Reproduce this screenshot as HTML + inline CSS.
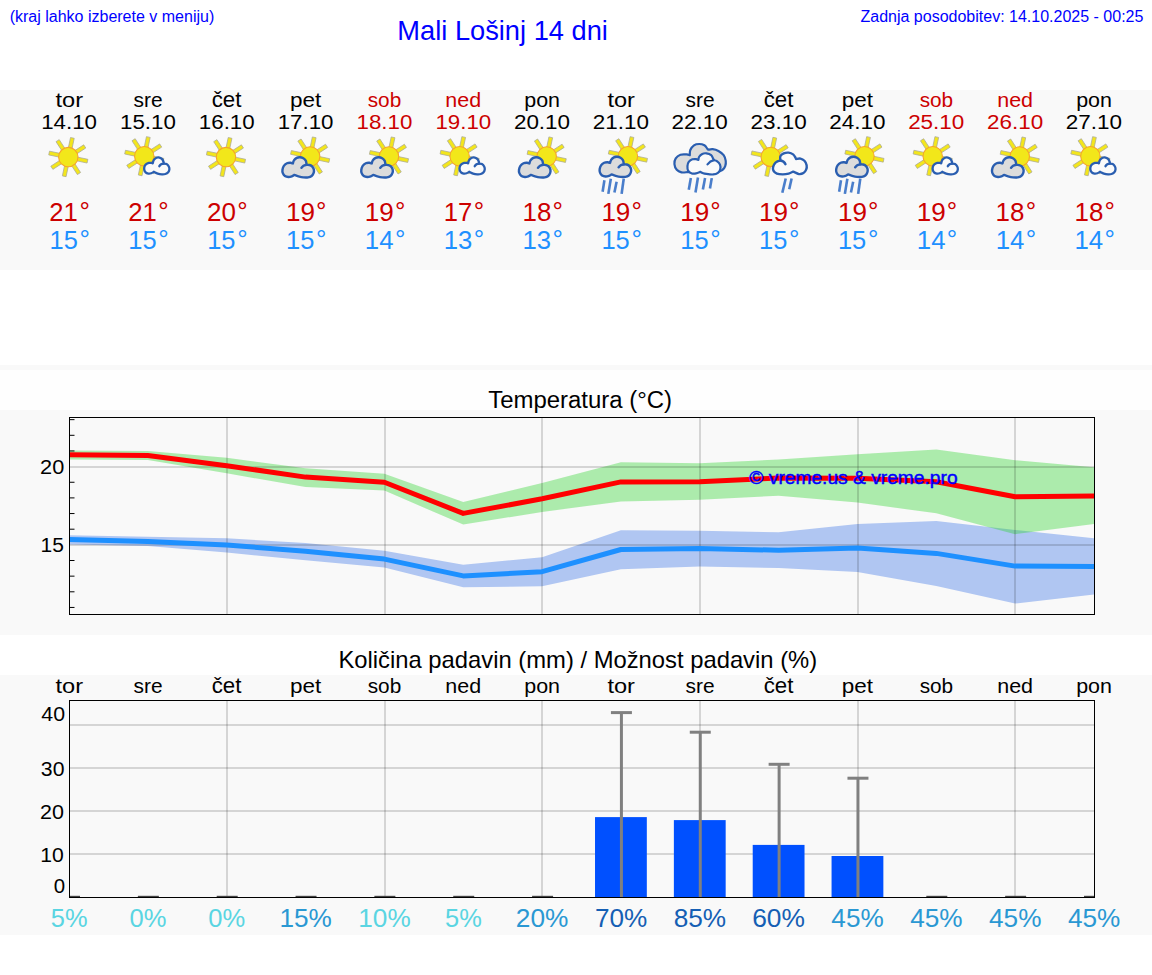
<!DOCTYPE html>
<html><head><meta charset="utf-8"><title>Mali Lošinj 14 dni</title>
<style>html,body{margin:0;padding:0;background:#fff;overflow:hidden}svg{display:block}
text{font-family:"Liberation Sans",sans-serif}</style></head>
<body><svg width="1152" height="975" viewBox="0 0 1152 975">
<rect width="1152" height="975" fill="#ffffff"/>
<rect x="0" y="90" width="1152" height="180" fill="#f9f9f9"/>
<rect x="0" y="365" width="1152" height="5" fill="#f9f9f9"/>
<rect x="0" y="370" width="1152" height="40" fill="#fefefe"/>
<rect x="0" y="410" width="1152" height="225" fill="#f9f9f9"/>
<rect x="0" y="675" width="1152" height="260" fill="#f9f9f9"/>
<text x="9.70" y="22.20" font-size="16" fill="#0000ff">(kraj lahko izberete v meniju)</text>
<text x="397.35" y="40.40" font-size="27.25" fill="#0000ff">Mali Lošinj 14 dni</text>
<text x="860.50" y="22.30" font-size="16" fill="#0000ff">Zadnja posodobitev: 14.10.2025 - 00:25</text>
<text transform="translate(55.48 106.90) scale(1.2440 1.1067)" font-size="19" fill="#000000">tor</text>
<text transform="translate(41.17 128.95) scale(1.1745 1.0455)" font-size="19" fill="#000000">14.10</text>
<g transform="translate(68.30 157.10) scale(1.000)"><rect x="-1.9" y="-19.6" width="3.8" height="10.5" fill="#f3e61c" stroke="#a9a998" stroke-width="0.7" transform="rotate(12.0)"/><rect x="-1.9" y="-19.6" width="3.8" height="10.5" fill="#f3e61c" stroke="#a9a998" stroke-width="0.7" transform="rotate(57.0)"/><rect x="-1.9" y="-19.6" width="3.8" height="10.5" fill="#f3e61c" stroke="#a9a998" stroke-width="0.7" transform="rotate(102.0)"/><rect x="-1.9" y="-19.6" width="3.8" height="10.5" fill="#f3e61c" stroke="#a9a998" stroke-width="0.7" transform="rotate(147.0)"/><rect x="-1.9" y="-19.6" width="3.8" height="10.5" fill="#f3e61c" stroke="#a9a998" stroke-width="0.7" transform="rotate(192.0)"/><rect x="-1.9" y="-19.6" width="3.8" height="10.5" fill="#f3e61c" stroke="#a9a998" stroke-width="0.7" transform="rotate(237.0)"/><rect x="-1.9" y="-19.6" width="3.8" height="10.5" fill="#f3e61c" stroke="#a9a998" stroke-width="0.7" transform="rotate(282.0)"/><rect x="-1.9" y="-19.6" width="3.8" height="10.5" fill="#f3e61c" stroke="#a9a998" stroke-width="0.7" transform="rotate(327.0)"/><circle r="9.7" fill="#f2e71a" stroke="#f6a52a" stroke-width="1.1"/></g>
<text transform="translate(49.28 221.00) scale(1.0266 1.0345)" font-size="25" fill="#cc0000">21</text>
<text transform="translate(79.47 221.25) scale(1.0440 1.0761)" font-size="25" fill="#cc0000">°</text>
<text transform="translate(49.50 248.91) scale(1.0188 1.0345)" font-size="25" fill="#1e90ff">15</text>
<text transform="translate(79.49 249.05) scale(1.0440 1.0761)" font-size="25" fill="#1e90ff">°</text>
<text transform="translate(133.53 106.90) scale(1.1016 1.0487)" font-size="19" fill="#000000">sre</text>
<text transform="translate(120.01 128.95) scale(1.1745 1.0455)" font-size="19" fill="#000000">15.10</text>
<g transform="translate(144.25 156.20) scale(1.000)"><rect x="-1.9" y="-19.6" width="3.8" height="10.5" fill="#f3e61c" stroke="#a9a998" stroke-width="0.7" transform="rotate(12.0)"/><rect x="-1.9" y="-19.6" width="3.8" height="10.5" fill="#f3e61c" stroke="#a9a998" stroke-width="0.7" transform="rotate(57.0)"/><rect x="-1.9" y="-19.6" width="3.8" height="10.5" fill="#f3e61c" stroke="#a9a998" stroke-width="0.7" transform="rotate(102.0)"/><rect x="-1.9" y="-19.6" width="3.8" height="10.5" fill="#f3e61c" stroke="#a9a998" stroke-width="0.7" transform="rotate(147.0)"/><rect x="-1.9" y="-19.6" width="3.8" height="10.5" fill="#f3e61c" stroke="#a9a998" stroke-width="0.7" transform="rotate(192.0)"/><rect x="-1.9" y="-19.6" width="3.8" height="10.5" fill="#f3e61c" stroke="#a9a998" stroke-width="0.7" transform="rotate(237.0)"/><rect x="-1.9" y="-19.6" width="3.8" height="10.5" fill="#f3e61c" stroke="#a9a998" stroke-width="0.7" transform="rotate(282.0)"/><rect x="-1.9" y="-19.6" width="3.8" height="10.5" fill="#f3e61c" stroke="#a9a998" stroke-width="0.7" transform="rotate(327.0)"/><circle r="9.7" fill="#f2e71a" stroke="#f6a52a" stroke-width="1.1"/></g><path d="M152.69 163.36 C152.89 162.80 153.23 160.90 153.87 159.97 C154.51 159.03 155.59 158.15 156.53 157.76 C157.46 157.36 158.55 157.39 159.48 157.61 C160.42 157.83 161.47 158.40 162.14 159.08 C162.80 159.77 163.19 160.98 163.47 161.74 C163.74 162.50 163.71 163.34 163.76 163.66 C164.23 163.73 165.73 163.63 166.56 164.10 C167.40 164.57 168.31 165.58 168.78 166.46 C169.25 167.35 169.47 168.43 169.37 169.41 C169.27 170.40 168.85 171.60 168.19 172.37 C167.52 173.13 166.44 173.67 165.38 173.99 C164.33 174.31 163.12 174.36 161.84 174.28 C160.56 174.21 159.04 173.96 157.71 173.55 C156.38 173.13 154.51 172.07 153.87 171.78 C153.43 172.02 152.15 172.96 151.22 173.25 C150.28 173.55 149.20 173.69 148.26 173.55 C147.33 173.40 146.27 173.01 145.61 172.37 C144.94 171.73 144.48 170.64 144.28 169.71 C144.08 168.77 144.16 167.64 144.43 166.76 C144.70 165.87 145.17 165.04 145.90 164.40 C146.64 163.76 147.92 163.17 148.85 162.92 C149.79 162.67 150.87 162.85 151.51 162.92 C152.15 162.99 152.50 163.29 152.69 163.36 Z" fill="#fafafa" stroke="#2a5eb0" stroke-width="2.30" stroke-linejoin="round"/><path d="M159.33 166.17 Q160.66 163.81 163.76 163.66" fill="none" stroke="#2a5eb0" stroke-width="2.30" stroke-linecap="round"/>
<text transform="translate(128.13 221.00) scale(1.0266 1.0345)" font-size="25" fill="#cc0000">21</text>
<text transform="translate(158.31 221.25) scale(1.0440 1.0761)" font-size="25" fill="#cc0000">°</text>
<text transform="translate(128.35 248.91) scale(1.0188 1.0345)" font-size="25" fill="#1e90ff">15</text>
<text transform="translate(158.34 249.05) scale(1.0440 1.0761)" font-size="25" fill="#1e90ff">°</text>
<text transform="translate(211.74 106.90) scale(1.1709 1.1154)" font-size="19" fill="#000000">čet</text>
<text transform="translate(198.86 128.95) scale(1.1745 1.0455)" font-size="19" fill="#000000">16.10</text>
<g transform="translate(225.99 157.10) scale(1.000)"><rect x="-1.9" y="-19.6" width="3.8" height="10.5" fill="#f3e61c" stroke="#a9a998" stroke-width="0.7" transform="rotate(12.0)"/><rect x="-1.9" y="-19.6" width="3.8" height="10.5" fill="#f3e61c" stroke="#a9a998" stroke-width="0.7" transform="rotate(57.0)"/><rect x="-1.9" y="-19.6" width="3.8" height="10.5" fill="#f3e61c" stroke="#a9a998" stroke-width="0.7" transform="rotate(102.0)"/><rect x="-1.9" y="-19.6" width="3.8" height="10.5" fill="#f3e61c" stroke="#a9a998" stroke-width="0.7" transform="rotate(147.0)"/><rect x="-1.9" y="-19.6" width="3.8" height="10.5" fill="#f3e61c" stroke="#a9a998" stroke-width="0.7" transform="rotate(192.0)"/><rect x="-1.9" y="-19.6" width="3.8" height="10.5" fill="#f3e61c" stroke="#a9a998" stroke-width="0.7" transform="rotate(237.0)"/><rect x="-1.9" y="-19.6" width="3.8" height="10.5" fill="#f3e61c" stroke="#a9a998" stroke-width="0.7" transform="rotate(282.0)"/><rect x="-1.9" y="-19.6" width="3.8" height="10.5" fill="#f3e61c" stroke="#a9a998" stroke-width="0.7" transform="rotate(327.0)"/><circle r="9.7" fill="#f2e71a" stroke="#f6a52a" stroke-width="1.1"/></g>
<text transform="translate(206.96 221.10) scale(1.0396 1.0405)" font-size="25" fill="#cc0000">20</text>
<text transform="translate(237.16 221.25) scale(1.0440 1.0761)" font-size="25" fill="#cc0000">°</text>
<text transform="translate(207.19 248.91) scale(1.0188 1.0345)" font-size="25" fill="#1e90ff">15</text>
<text transform="translate(237.18 249.05) scale(1.0440 1.0761)" font-size="25" fill="#1e90ff">°</text>
<text transform="translate(289.92 106.90) scale(1.1832 1.1067)" font-size="19" fill="#000000">pet</text>
<text transform="translate(277.70 128.95) scale(1.1745 1.0455)" font-size="19" fill="#000000">17.10</text>
<g transform="translate(310.14 156.50) scale(1.000)"><rect x="-1.9" y="-19.6" width="3.8" height="10.5" fill="#f3e61c" stroke="#a9a998" stroke-width="0.7" transform="rotate(12.0)"/><rect x="-1.9" y="-19.6" width="3.8" height="10.5" fill="#f3e61c" stroke="#a9a998" stroke-width="0.7" transform="rotate(57.0)"/><rect x="-1.9" y="-19.6" width="3.8" height="10.5" fill="#f3e61c" stroke="#a9a998" stroke-width="0.7" transform="rotate(102.0)"/><rect x="-1.9" y="-19.6" width="3.8" height="10.5" fill="#f3e61c" stroke="#a9a998" stroke-width="0.7" transform="rotate(147.0)"/><rect x="-1.9" y="-19.6" width="3.8" height="10.5" fill="#f3e61c" stroke="#a9a998" stroke-width="0.7" transform="rotate(192.0)"/><rect x="-1.9" y="-19.6" width="3.8" height="10.5" fill="#f3e61c" stroke="#a9a998" stroke-width="0.7" transform="rotate(237.0)"/><rect x="-1.9" y="-19.6" width="3.8" height="10.5" fill="#f3e61c" stroke="#a9a998" stroke-width="0.7" transform="rotate(282.0)"/><rect x="-1.9" y="-19.6" width="3.8" height="10.5" fill="#f3e61c" stroke="#a9a998" stroke-width="0.7" transform="rotate(327.0)"/><circle r="9.7" fill="#f2e71a" stroke="#f6a52a" stroke-width="1.1"/></g><path d="M292.89 163.46 C293.06 162.94 293.29 161.26 293.93 160.33 C294.57 159.41 295.72 158.42 296.71 157.90 C297.69 157.38 298.73 157.15 299.83 157.21 C300.93 157.27 302.32 157.67 303.31 158.25 C304.29 158.83 305.22 159.81 305.74 160.68 C306.26 161.55 306.26 162.76 306.43 163.46 C306.60 164.15 306.72 164.62 306.78 164.85 C307.24 164.88 308.63 164.73 309.56 165.02 C310.48 165.31 311.61 165.80 312.33 166.58 C313.06 167.36 313.69 168.61 313.90 169.71 C314.10 170.81 313.92 172.14 313.55 173.18 C313.17 174.22 312.54 175.26 311.64 175.96 C310.74 176.65 309.56 177.12 308.17 177.35 C306.78 177.58 304.93 177.52 303.31 177.35 C301.69 177.17 299.95 176.71 298.44 176.31 C296.94 175.90 294.97 175.15 294.28 174.92 C293.87 175.15 292.83 175.96 291.85 176.31 C290.86 176.65 289.53 177.06 288.38 177.00 C287.22 176.94 285.83 176.59 284.90 175.96 C283.98 175.32 283.22 174.22 282.82 173.18 C282.41 172.14 282.30 170.92 282.47 169.71 C282.65 168.49 283.11 166.96 283.86 165.89 C284.61 164.82 285.89 163.81 286.99 163.28 C288.09 162.76 289.47 162.73 290.46 162.76 C291.44 162.79 292.48 163.34 292.89 163.46 Z" fill="#dcdcdc" stroke="#2a5eb0" stroke-width="2.40" stroke-linejoin="round"/><path d="M301.40 167.80 Q302.96 165.19 306.78 164.85" fill="none" stroke="#2a5eb0" stroke-width="2.40" stroke-linecap="round"/>
<text transform="translate(286.00 221.11) scale(1.0430 1.0336)" font-size="25" fill="#cc0000">19</text>
<text transform="translate(316.03 221.25) scale(1.0440 1.0761)" font-size="25" fill="#cc0000">°</text>
<text transform="translate(286.04 248.91) scale(1.0188 1.0345)" font-size="25" fill="#1e90ff">15</text>
<text transform="translate(316.03 249.05) scale(1.0440 1.0761)" font-size="25" fill="#1e90ff">°</text>
<text transform="translate(367.73 106.90) scale(1.0938 1.0705)" font-size="19" fill="#cc0000">sob</text>
<text transform="translate(356.55 128.95) scale(1.1745 1.0455)" font-size="19" fill="#cc0000">18.10</text>
<g transform="translate(388.98 156.50) scale(1.000)"><rect x="-1.9" y="-19.6" width="3.8" height="10.5" fill="#f3e61c" stroke="#a9a998" stroke-width="0.7" transform="rotate(12.0)"/><rect x="-1.9" y="-19.6" width="3.8" height="10.5" fill="#f3e61c" stroke="#a9a998" stroke-width="0.7" transform="rotate(57.0)"/><rect x="-1.9" y="-19.6" width="3.8" height="10.5" fill="#f3e61c" stroke="#a9a998" stroke-width="0.7" transform="rotate(102.0)"/><rect x="-1.9" y="-19.6" width="3.8" height="10.5" fill="#f3e61c" stroke="#a9a998" stroke-width="0.7" transform="rotate(147.0)"/><rect x="-1.9" y="-19.6" width="3.8" height="10.5" fill="#f3e61c" stroke="#a9a998" stroke-width="0.7" transform="rotate(192.0)"/><rect x="-1.9" y="-19.6" width="3.8" height="10.5" fill="#f3e61c" stroke="#a9a998" stroke-width="0.7" transform="rotate(237.0)"/><rect x="-1.9" y="-19.6" width="3.8" height="10.5" fill="#f3e61c" stroke="#a9a998" stroke-width="0.7" transform="rotate(282.0)"/><rect x="-1.9" y="-19.6" width="3.8" height="10.5" fill="#f3e61c" stroke="#a9a998" stroke-width="0.7" transform="rotate(327.0)"/><circle r="9.7" fill="#f2e71a" stroke="#f6a52a" stroke-width="1.1"/></g><path d="M371.74 163.46 C371.91 162.94 372.14 161.26 372.78 160.33 C373.41 159.41 374.57 158.42 375.55 157.90 C376.54 157.38 377.58 157.15 378.68 157.21 C379.78 157.27 381.17 157.67 382.15 158.25 C383.14 158.83 384.06 159.81 384.58 160.68 C385.10 161.55 385.10 162.76 385.28 163.46 C385.45 164.15 385.57 164.62 385.62 164.85 C386.09 164.88 387.48 164.73 388.40 165.02 C389.33 165.31 390.46 165.80 391.18 166.58 C391.90 167.36 392.54 168.61 392.74 169.71 C392.94 170.81 392.77 172.14 392.39 173.18 C392.02 174.22 391.38 175.26 390.49 175.96 C389.59 176.65 388.40 177.12 387.01 177.35 C385.62 177.58 383.77 177.52 382.15 177.35 C380.53 177.17 378.80 176.71 377.29 176.31 C375.79 175.90 373.82 175.15 373.12 174.92 C372.72 175.15 371.68 175.96 370.69 176.31 C369.71 176.65 368.38 177.06 367.22 177.00 C366.06 176.94 364.67 176.59 363.75 175.96 C362.82 175.32 362.07 174.22 361.67 173.18 C361.26 172.14 361.14 170.92 361.32 169.71 C361.49 168.49 361.95 166.96 362.71 165.89 C363.46 164.82 364.73 163.81 365.83 163.28 C366.93 162.76 368.32 162.73 369.30 162.76 C370.29 162.79 371.33 163.34 371.74 163.46 Z" fill="#dcdcdc" stroke="#2a5eb0" stroke-width="2.40" stroke-linejoin="round"/><path d="M380.24 167.80 Q381.80 165.19 385.62 164.85" fill="none" stroke="#2a5eb0" stroke-width="2.40" stroke-linecap="round"/>
<text transform="translate(364.84 221.11) scale(1.0430 1.0336)" font-size="25" fill="#cc0000">19</text>
<text transform="translate(394.88 221.25) scale(1.0440 1.0761)" font-size="25" fill="#cc0000">°</text>
<text transform="translate(364.86 248.79) scale(1.0317 1.0279)" font-size="25" fill="#1e90ff">14</text>
<text transform="translate(394.88 249.05) scale(1.0440 1.0761)" font-size="25" fill="#1e90ff">°</text>
<text transform="translate(445.35 106.90) scale(1.1290 1.0705)" font-size="19" fill="#cc0000">ned</text>
<text transform="translate(435.40 128.95) scale(1.1745 1.0455)" font-size="19" fill="#cc0000">19.10</text>
<g transform="translate(459.63 156.20) scale(1.000)"><rect x="-1.9" y="-19.6" width="3.8" height="10.5" fill="#f3e61c" stroke="#a9a998" stroke-width="0.7" transform="rotate(12.0)"/><rect x="-1.9" y="-19.6" width="3.8" height="10.5" fill="#f3e61c" stroke="#a9a998" stroke-width="0.7" transform="rotate(57.0)"/><rect x="-1.9" y="-19.6" width="3.8" height="10.5" fill="#f3e61c" stroke="#a9a998" stroke-width="0.7" transform="rotate(102.0)"/><rect x="-1.9" y="-19.6" width="3.8" height="10.5" fill="#f3e61c" stroke="#a9a998" stroke-width="0.7" transform="rotate(147.0)"/><rect x="-1.9" y="-19.6" width="3.8" height="10.5" fill="#f3e61c" stroke="#a9a998" stroke-width="0.7" transform="rotate(192.0)"/><rect x="-1.9" y="-19.6" width="3.8" height="10.5" fill="#f3e61c" stroke="#a9a998" stroke-width="0.7" transform="rotate(237.0)"/><rect x="-1.9" y="-19.6" width="3.8" height="10.5" fill="#f3e61c" stroke="#a9a998" stroke-width="0.7" transform="rotate(282.0)"/><rect x="-1.9" y="-19.6" width="3.8" height="10.5" fill="#f3e61c" stroke="#a9a998" stroke-width="0.7" transform="rotate(327.0)"/><circle r="9.7" fill="#f2e71a" stroke="#f6a52a" stroke-width="1.1"/></g><path d="M468.08 163.36 C468.27 162.80 468.62 160.90 469.26 159.97 C469.90 159.03 470.98 158.15 471.91 157.76 C472.85 157.36 473.93 157.39 474.87 157.61 C475.80 157.83 476.86 158.40 477.52 159.08 C478.19 159.77 478.58 160.98 478.85 161.74 C479.12 162.50 479.10 163.34 479.14 163.66 C479.61 163.73 481.11 163.63 481.95 164.10 C482.79 164.57 483.70 165.58 484.16 166.46 C484.63 167.35 484.85 168.43 484.75 169.41 C484.65 170.40 484.24 171.60 483.57 172.37 C482.91 173.13 481.83 173.67 480.77 173.99 C479.71 174.31 478.51 174.36 477.23 174.28 C475.95 174.21 474.42 173.96 473.09 173.55 C471.77 173.13 469.90 172.07 469.26 171.78 C468.81 172.02 467.54 172.96 466.60 173.25 C465.67 173.55 464.58 173.69 463.65 173.55 C462.71 173.40 461.66 173.01 460.99 172.37 C460.33 171.73 459.86 170.64 459.66 169.71 C459.47 168.77 459.54 167.64 459.81 166.76 C460.08 165.87 460.55 165.04 461.29 164.40 C462.03 163.76 463.30 163.17 464.24 162.92 C465.17 162.67 466.26 162.85 466.90 162.92 C467.54 162.99 467.88 163.29 468.08 163.36 Z" fill="#fafafa" stroke="#2a5eb0" stroke-width="2.30" stroke-linejoin="round"/><path d="M474.72 166.17 Q476.05 163.81 479.14 163.66" fill="none" stroke="#2a5eb0" stroke-width="2.30" stroke-linecap="round"/>
<text transform="translate(443.71 221.00) scale(1.0287 1.0283)" font-size="25" fill="#cc0000">17</text>
<text transform="translate(473.72 221.25) scale(1.0440 1.0761)" font-size="25" fill="#cc0000">°</text>
<text transform="translate(443.72 248.91) scale(1.0283 1.0336)" font-size="25" fill="#1e90ff">13</text>
<text transform="translate(473.72 249.05) scale(1.0440 1.0761)" font-size="25" fill="#1e90ff">°</text>
<text transform="translate(524.23 106.90) scale(1.1290 1.0487)" font-size="19" fill="#000000">pon</text>
<text transform="translate(513.91 128.95) scale(1.1820 1.0455)" font-size="19" fill="#000000">20.10</text>
<g transform="translate(546.68 156.50) scale(1.000)"><rect x="-1.9" y="-19.6" width="3.8" height="10.5" fill="#f3e61c" stroke="#a9a998" stroke-width="0.7" transform="rotate(12.0)"/><rect x="-1.9" y="-19.6" width="3.8" height="10.5" fill="#f3e61c" stroke="#a9a998" stroke-width="0.7" transform="rotate(57.0)"/><rect x="-1.9" y="-19.6" width="3.8" height="10.5" fill="#f3e61c" stroke="#a9a998" stroke-width="0.7" transform="rotate(102.0)"/><rect x="-1.9" y="-19.6" width="3.8" height="10.5" fill="#f3e61c" stroke="#a9a998" stroke-width="0.7" transform="rotate(147.0)"/><rect x="-1.9" y="-19.6" width="3.8" height="10.5" fill="#f3e61c" stroke="#a9a998" stroke-width="0.7" transform="rotate(192.0)"/><rect x="-1.9" y="-19.6" width="3.8" height="10.5" fill="#f3e61c" stroke="#a9a998" stroke-width="0.7" transform="rotate(237.0)"/><rect x="-1.9" y="-19.6" width="3.8" height="10.5" fill="#f3e61c" stroke="#a9a998" stroke-width="0.7" transform="rotate(282.0)"/><rect x="-1.9" y="-19.6" width="3.8" height="10.5" fill="#f3e61c" stroke="#a9a998" stroke-width="0.7" transform="rotate(327.0)"/><circle r="9.7" fill="#f2e71a" stroke="#f6a52a" stroke-width="1.1"/></g><path d="M529.43 163.46 C529.60 162.94 529.83 161.26 530.47 160.33 C531.11 159.41 532.26 158.42 533.25 157.90 C534.23 157.38 535.27 157.15 536.37 157.21 C537.47 157.27 538.86 157.67 539.84 158.25 C540.83 158.83 541.75 159.81 542.27 160.68 C542.80 161.55 542.80 162.76 542.97 163.46 C543.14 164.15 543.26 164.62 543.32 164.85 C543.78 164.88 545.17 164.73 546.09 165.02 C547.02 165.31 548.15 165.80 548.87 166.58 C549.60 167.36 550.23 168.61 550.43 169.71 C550.64 170.81 550.46 172.14 550.09 173.18 C549.71 174.22 549.07 175.26 548.18 175.96 C547.28 176.65 546.09 177.12 544.71 177.35 C543.32 177.58 541.46 177.52 539.84 177.35 C538.22 177.17 536.49 176.71 534.98 176.31 C533.48 175.90 531.51 175.15 530.82 174.92 C530.41 175.15 529.37 175.96 528.39 176.31 C527.40 176.65 526.07 177.06 524.91 177.00 C523.76 176.94 522.37 176.59 521.44 175.96 C520.52 175.32 519.76 174.22 519.36 173.18 C518.95 172.14 518.84 170.92 519.01 169.71 C519.18 168.49 519.65 166.96 520.40 165.89 C521.15 164.82 522.43 163.81 523.52 163.28 C524.62 162.76 526.01 162.73 527.00 162.76 C527.98 162.79 529.02 163.34 529.43 163.46 Z" fill="#dcdcdc" stroke="#2a5eb0" stroke-width="2.40" stroke-linejoin="round"/><path d="M537.93 167.80 Q539.50 165.19 543.32 164.85" fill="none" stroke="#2a5eb0" stroke-width="2.40" stroke-linecap="round"/>
<text transform="translate(522.54 221.11) scale(1.0378 1.0336)" font-size="25" fill="#cc0000">18</text>
<text transform="translate(552.57 221.25) scale(1.0440 1.0761)" font-size="25" fill="#cc0000">°</text>
<text transform="translate(522.56 248.91) scale(1.0283 1.0336)" font-size="25" fill="#1e90ff">13</text>
<text transform="translate(552.57 249.05) scale(1.0440 1.0761)" font-size="25" fill="#1e90ff">°</text>
<text transform="translate(607.41 106.90) scale(1.2440 1.1067)" font-size="19" fill="#000000">tor</text>
<text transform="translate(592.76 128.95) scale(1.1820 1.0455)" font-size="19" fill="#000000">21.10</text>
<g transform="translate(627.92 156.20) scale(1.000)"><rect x="-1.9" y="-19.6" width="3.8" height="10.5" fill="#f3e61c" stroke="#a9a998" stroke-width="0.7" transform="rotate(12.0)"/><rect x="-1.9" y="-19.6" width="3.8" height="10.5" fill="#f3e61c" stroke="#a9a998" stroke-width="0.7" transform="rotate(57.0)"/><rect x="-1.9" y="-19.6" width="3.8" height="10.5" fill="#f3e61c" stroke="#a9a998" stroke-width="0.7" transform="rotate(102.0)"/><rect x="-1.9" y="-19.6" width="3.8" height="10.5" fill="#f3e61c" stroke="#a9a998" stroke-width="0.7" transform="rotate(147.0)"/><rect x="-1.9" y="-19.6" width="3.8" height="10.5" fill="#f3e61c" stroke="#a9a998" stroke-width="0.7" transform="rotate(192.0)"/><rect x="-1.9" y="-19.6" width="3.8" height="10.5" fill="#f3e61c" stroke="#a9a998" stroke-width="0.7" transform="rotate(237.0)"/><rect x="-1.9" y="-19.6" width="3.8" height="10.5" fill="#f3e61c" stroke="#a9a998" stroke-width="0.7" transform="rotate(282.0)"/><rect x="-1.9" y="-19.6" width="3.8" height="10.5" fill="#f3e61c" stroke="#a9a998" stroke-width="0.7" transform="rotate(327.0)"/><circle r="9.7" fill="#f2e71a" stroke="#f6a52a" stroke-width="1.1"/></g><path d="M610.07 162.96 C610.25 162.44 610.48 160.76 611.12 159.83 C611.75 158.91 612.91 157.92 613.89 157.40 C614.88 156.88 615.92 156.65 617.02 156.71 C618.12 156.77 619.51 157.17 620.49 157.75 C621.47 158.33 622.40 159.31 622.92 160.18 C623.44 161.05 623.44 162.26 623.62 162.96 C623.79 163.65 623.90 164.12 623.96 164.35 C624.43 164.38 625.81 164.23 626.74 164.52 C627.67 164.81 628.79 165.30 629.52 166.08 C630.24 166.86 630.88 168.11 631.08 169.21 C631.28 170.31 631.11 171.64 630.73 172.68 C630.36 173.72 629.72 174.76 628.82 175.46 C627.93 176.15 626.74 176.62 625.35 176.85 C623.96 177.08 622.11 177.02 620.49 176.85 C618.87 176.67 617.13 176.21 615.63 175.81 C614.12 175.40 612.16 174.65 611.46 174.42 C611.06 174.65 610.02 175.46 609.03 175.81 C608.05 176.15 606.72 176.56 605.56 176.50 C604.40 176.44 603.01 176.09 602.09 175.46 C601.16 174.82 600.41 173.72 600.00 172.68 C599.60 171.64 599.48 170.42 599.66 169.21 C599.83 167.99 600.29 166.46 601.05 165.39 C601.80 164.32 603.07 163.31 604.17 162.78 C605.27 162.26 606.66 162.23 607.64 162.26 C608.63 162.29 609.67 162.84 610.07 162.96 Z" fill="#dcdcdc" stroke="#2a5eb0" stroke-width="2.40" stroke-linejoin="round"/><path d="M618.58 167.30 Q620.14 164.69 623.96 164.35" fill="none" stroke="#2a5eb0" stroke-width="2.40" stroke-linecap="round"/><line x1="604.42" y1="180.30" x2="602.62" y2="191.70" stroke="#4a7ecb" stroke-width="2.6"/><line x1="610.82" y1="178.80" x2="608.32" y2="193.90" stroke="#4a7ecb" stroke-width="2.6"/><line x1="616.62" y1="181.70" x2="614.42" y2="192.50" stroke="#4a7ecb" stroke-width="2.6"/><line x1="623.72" y1="178.80" x2="621.62" y2="193.90" stroke="#4a7ecb" stroke-width="2.6"/>
<text transform="translate(601.38 221.11) scale(1.0430 1.0336)" font-size="25" fill="#cc0000">19</text>
<text transform="translate(631.41 221.25) scale(1.0440 1.0761)" font-size="25" fill="#cc0000">°</text>
<text transform="translate(601.43 248.91) scale(1.0188 1.0345)" font-size="25" fill="#1e90ff">15</text>
<text transform="translate(631.41 249.05) scale(1.0440 1.0761)" font-size="25" fill="#1e90ff">°</text>
<text transform="translate(685.46 106.90) scale(1.1016 1.0487)" font-size="19" fill="#000000">sre</text>
<text transform="translate(671.60 128.95) scale(1.1820 1.0455)" font-size="19" fill="#000000">22.10</text>
<path d="M689.79 155.19 C689.88 154.32 689.62 151.63 690.31 149.98 C691.01 148.33 692.48 146.29 693.96 145.29 C695.43 144.29 697.43 143.99 699.17 143.99 C700.90 143.99 702.99 144.47 704.38 145.29 C705.76 146.12 706.85 148.20 707.50 148.94 C708.15 149.68 708.15 149.59 708.28 149.72 C709.02 149.63 711.02 148.98 712.71 149.20 C714.40 149.41 716.61 150.02 718.44 151.02 C720.26 152.02 722.43 153.54 723.65 155.19 C724.86 156.84 725.47 159.09 725.73 160.92 C725.99 162.74 725.73 164.65 725.21 166.12 C724.69 167.60 723.99 168.82 722.60 169.77 C721.22 170.73 720.43 171.51 716.88 171.85 C713.32 172.20 706.20 171.81 701.25 171.85 C696.30 171.90 689.53 172.07 687.19 172.11 C686.23 172.16 683.19 172.77 681.46 172.38 C679.72 171.98 677.94 171.16 676.77 169.77 C675.60 168.38 674.60 165.95 674.43 164.04 C674.25 162.13 674.73 159.88 675.73 158.31 C676.73 156.75 678.59 155.32 680.42 154.67 C682.24 154.02 685.10 154.32 686.67 154.41 C688.23 154.49 689.27 155.06 689.79 155.19 Z" fill="#dcdcdc" stroke="#2a5eb0" stroke-width="2.20" stroke-linejoin="round"/><path d="M698.39 159.88 C698.52 159.35 698.52 157.75 699.17 156.75 C699.82 155.75 701.08 154.45 702.29 153.89 C703.51 153.32 704.98 153.15 706.46 153.36 C707.93 153.58 710.02 154.28 711.15 155.19 C712.27 156.10 712.75 158.01 713.23 158.83 C713.71 159.66 713.88 159.92 714.01 160.14 C714.49 160.31 715.88 160.44 716.88 161.18 C717.87 161.91 719.44 163.22 720.00 164.56 C720.56 165.91 720.61 167.86 720.26 169.25 C719.91 170.64 719.09 172.03 717.92 172.90 C716.74 173.76 715.14 174.28 713.23 174.46 C711.32 174.63 708.28 174.20 706.46 173.94 C704.64 173.68 703.33 173.24 702.29 172.90 C701.25 172.55 700.56 172.03 700.21 171.85 C699.51 172.11 697.43 173.16 696.04 173.42 C694.65 173.68 693.18 173.85 691.88 173.42 C690.57 172.98 688.97 172.03 688.23 170.81 C687.49 169.60 687.36 167.60 687.45 166.12 C687.53 164.65 687.93 163.09 688.75 161.96 C689.57 160.83 691.18 159.83 692.40 159.35 C693.61 158.88 695.04 159.01 696.04 159.09 C697.04 159.18 697.99 159.74 698.39 159.88 Z" fill="#fafafa" stroke="#2a5eb0" stroke-width="2.20" stroke-linejoin="round"/><path d="M707.50 164.30 Q710.10 160.92 714.01 160.14" fill="none" stroke="#2a5eb0" stroke-width="2.20" stroke-linecap="round"/><line x1="690.87" y1="178.10" x2="688.77" y2="189.80" stroke="#4a7ecb" stroke-width="2.6"/><line x1="697.97" y1="177.50" x2="695.47" y2="192.50" stroke="#4a7ecb" stroke-width="2.6"/><line x1="705.07" y1="178.10" x2="702.87" y2="189.50" stroke="#4a7ecb" stroke-width="2.6"/><line x1="711.77" y1="178.10" x2="709.97" y2="188.50" stroke="#4a7ecb" stroke-width="2.6"/>
<text transform="translate(680.23 221.11) scale(1.0430 1.0336)" font-size="25" fill="#cc0000">19</text>
<text transform="translate(710.26 221.25) scale(1.0440 1.0761)" font-size="25" fill="#cc0000">°</text>
<text transform="translate(680.27 248.91) scale(1.0188 1.0345)" font-size="25" fill="#1e90ff">15</text>
<text transform="translate(710.26 249.05) scale(1.0440 1.0761)" font-size="25" fill="#1e90ff">°</text>
<text transform="translate(763.66 106.90) scale(1.1709 1.1154)" font-size="19" fill="#000000">čet</text>
<text transform="translate(750.45 128.95) scale(1.1820 1.0455)" font-size="19" fill="#000000">23.10</text>
<g transform="translate(770.72 156.90) scale(1.000)"><rect x="-1.9" y="-19.6" width="3.8" height="10.5" fill="#f3e61c" stroke="#a9a998" stroke-width="0.7" transform="rotate(12.0)"/><rect x="-1.9" y="-19.6" width="3.8" height="10.5" fill="#f3e61c" stroke="#a9a998" stroke-width="0.7" transform="rotate(57.0)"/><rect x="-1.9" y="-19.6" width="3.8" height="10.5" fill="#f3e61c" stroke="#a9a998" stroke-width="0.7" transform="rotate(102.0)"/><rect x="-1.9" y="-19.6" width="3.8" height="10.5" fill="#f3e61c" stroke="#a9a998" stroke-width="0.7" transform="rotate(147.0)"/><rect x="-1.9" y="-19.6" width="3.8" height="10.5" fill="#f3e61c" stroke="#a9a998" stroke-width="0.7" transform="rotate(192.0)"/><rect x="-1.9" y="-19.6" width="3.8" height="10.5" fill="#f3e61c" stroke="#a9a998" stroke-width="0.7" transform="rotate(237.0)"/><rect x="-1.9" y="-19.6" width="3.8" height="10.5" fill="#f3e61c" stroke="#a9a998" stroke-width="0.7" transform="rotate(282.0)"/><rect x="-1.9" y="-19.6" width="3.8" height="10.5" fill="#f3e61c" stroke="#a9a998" stroke-width="0.7" transform="rotate(327.0)"/><circle r="9.7" fill="#f2e71a" stroke="#f6a52a" stroke-width="1.1"/></g><path d="M780.55 160.55 C780.51 159.85 779.77 157.56 780.30 156.37 C780.84 155.18 782.35 154.03 783.75 153.41 C785.14 152.80 787.11 152.51 788.67 152.68 C790.23 152.84 791.95 153.54 793.10 154.40 C794.25 155.26 795.07 157.06 795.56 157.84 C796.05 158.62 795.97 158.87 796.05 159.07 C796.79 158.99 799.09 158.29 800.48 158.58 C801.87 158.87 803.39 159.69 804.42 160.80 C805.44 161.90 806.34 163.75 806.63 165.22 C806.92 166.70 806.67 168.34 806.14 169.65 C805.61 170.97 804.62 172.36 803.43 173.10 C802.24 173.84 800.32 174.16 799.00 174.08 C797.69 174.00 796.54 173.02 795.56 172.61 C794.57 172.20 793.51 171.79 793.10 171.62 C792.36 171.95 790.39 173.14 788.67 173.59 C786.95 174.04 784.73 174.33 782.76 174.33 C780.80 174.33 778.42 174.21 776.86 173.59 C775.30 172.98 774.03 171.79 773.41 170.64 C772.80 169.49 772.84 168.01 773.17 166.70 C773.50 165.39 774.52 163.71 775.38 162.76 C776.24 161.82 777.47 161.41 778.33 161.04 C779.20 160.67 780.18 160.63 780.55 160.55 Z" fill="#fafafa" stroke="#2a5eb0" stroke-width="2.40" stroke-linejoin="round"/><path d="M785.47 164.24 Q784.24 161.04 780.55 160.55" fill="none" stroke="#2a5eb0" stroke-width="2.40" stroke-linecap="round"/><line x1="785.72" y1="178.50" x2="782.32" y2="192.80" stroke="#4a7ecb" stroke-width="2.6"/><line x1="791.62" y1="178.50" x2="789.22" y2="189.30" stroke="#4a7ecb" stroke-width="2.6"/>
<text transform="translate(759.07 221.11) scale(1.0430 1.0336)" font-size="25" fill="#cc0000">19</text>
<text transform="translate(789.11 221.25) scale(1.0440 1.0761)" font-size="25" fill="#cc0000">°</text>
<text transform="translate(759.12 248.91) scale(1.0188 1.0345)" font-size="25" fill="#1e90ff">15</text>
<text transform="translate(789.11 249.05) scale(1.0440 1.0761)" font-size="25" fill="#1e90ff">°</text>
<text transform="translate(841.84 106.90) scale(1.1832 1.1067)" font-size="19" fill="#000000">pet</text>
<text transform="translate(829.29 128.95) scale(1.1820 1.0455)" font-size="19" fill="#000000">24.10</text>
<g transform="translate(864.46 156.20) scale(1.000)"><rect x="-1.9" y="-19.6" width="3.8" height="10.5" fill="#f3e61c" stroke="#a9a998" stroke-width="0.7" transform="rotate(12.0)"/><rect x="-1.9" y="-19.6" width="3.8" height="10.5" fill="#f3e61c" stroke="#a9a998" stroke-width="0.7" transform="rotate(57.0)"/><rect x="-1.9" y="-19.6" width="3.8" height="10.5" fill="#f3e61c" stroke="#a9a998" stroke-width="0.7" transform="rotate(102.0)"/><rect x="-1.9" y="-19.6" width="3.8" height="10.5" fill="#f3e61c" stroke="#a9a998" stroke-width="0.7" transform="rotate(147.0)"/><rect x="-1.9" y="-19.6" width="3.8" height="10.5" fill="#f3e61c" stroke="#a9a998" stroke-width="0.7" transform="rotate(192.0)"/><rect x="-1.9" y="-19.6" width="3.8" height="10.5" fill="#f3e61c" stroke="#a9a998" stroke-width="0.7" transform="rotate(237.0)"/><rect x="-1.9" y="-19.6" width="3.8" height="10.5" fill="#f3e61c" stroke="#a9a998" stroke-width="0.7" transform="rotate(282.0)"/><rect x="-1.9" y="-19.6" width="3.8" height="10.5" fill="#f3e61c" stroke="#a9a998" stroke-width="0.7" transform="rotate(327.0)"/><circle r="9.7" fill="#f2e71a" stroke="#f6a52a" stroke-width="1.1"/></g><path d="M846.61 162.96 C846.79 162.44 847.02 160.76 847.65 159.83 C848.29 158.91 849.45 157.92 850.43 157.40 C851.42 156.88 852.46 156.65 853.56 156.71 C854.66 156.77 856.04 157.17 857.03 157.75 C858.01 158.33 858.94 159.31 859.46 160.18 C859.98 161.05 859.98 162.26 860.15 162.96 C860.33 163.65 860.44 164.12 860.50 164.35 C860.96 164.38 862.35 164.23 863.28 164.52 C864.20 164.81 865.33 165.30 866.06 166.08 C866.78 166.86 867.42 168.11 867.62 169.21 C867.82 170.31 867.65 171.64 867.27 172.68 C866.90 173.72 866.26 174.76 865.36 175.46 C864.46 176.15 863.28 176.62 861.89 176.85 C860.50 177.08 858.65 177.02 857.03 176.85 C855.41 176.67 853.67 176.21 852.17 175.81 C850.66 175.40 848.70 174.65 848.00 174.42 C847.60 174.65 846.55 175.46 845.57 175.81 C844.59 176.15 843.26 176.56 842.10 176.50 C840.94 176.44 839.55 176.09 838.63 175.46 C837.70 174.82 836.95 173.72 836.54 172.68 C836.14 171.64 836.02 170.42 836.20 169.21 C836.37 167.99 836.83 166.46 837.58 165.39 C838.34 164.32 839.61 163.31 840.71 162.78 C841.81 162.26 843.20 162.23 844.18 162.26 C845.17 162.29 846.21 162.84 846.61 162.96 Z" fill="#dcdcdc" stroke="#2a5eb0" stroke-width="2.40" stroke-linejoin="round"/><path d="M855.12 167.30 Q856.68 164.69 860.50 164.35" fill="none" stroke="#2a5eb0" stroke-width="2.40" stroke-linecap="round"/><line x1="840.96" y1="180.30" x2="839.16" y2="191.70" stroke="#4a7ecb" stroke-width="2.6"/><line x1="847.36" y1="178.80" x2="844.86" y2="193.90" stroke="#4a7ecb" stroke-width="2.6"/><line x1="853.16" y1="181.70" x2="850.96" y2="192.50" stroke="#4a7ecb" stroke-width="2.6"/><line x1="860.26" y1="178.80" x2="858.16" y2="193.90" stroke="#4a7ecb" stroke-width="2.6"/>
<text transform="translate(837.92 221.11) scale(1.0430 1.0336)" font-size="25" fill="#cc0000">19</text>
<text transform="translate(867.95 221.25) scale(1.0440 1.0761)" font-size="25" fill="#cc0000">°</text>
<text transform="translate(837.96 248.91) scale(1.0188 1.0345)" font-size="25" fill="#1e90ff">15</text>
<text transform="translate(867.95 249.05) scale(1.0440 1.0761)" font-size="25" fill="#1e90ff">°</text>
<text transform="translate(919.65 106.90) scale(1.0938 1.0705)" font-size="19" fill="#cc0000">sob</text>
<text transform="translate(908.14 128.95) scale(1.1820 1.0455)" font-size="19" fill="#cc0000">25.10</text>
<g transform="translate(932.71 156.20) scale(1.000)"><rect x="-1.9" y="-19.6" width="3.8" height="10.5" fill="#f3e61c" stroke="#a9a998" stroke-width="0.7" transform="rotate(12.0)"/><rect x="-1.9" y="-19.6" width="3.8" height="10.5" fill="#f3e61c" stroke="#a9a998" stroke-width="0.7" transform="rotate(57.0)"/><rect x="-1.9" y="-19.6" width="3.8" height="10.5" fill="#f3e61c" stroke="#a9a998" stroke-width="0.7" transform="rotate(102.0)"/><rect x="-1.9" y="-19.6" width="3.8" height="10.5" fill="#f3e61c" stroke="#a9a998" stroke-width="0.7" transform="rotate(147.0)"/><rect x="-1.9" y="-19.6" width="3.8" height="10.5" fill="#f3e61c" stroke="#a9a998" stroke-width="0.7" transform="rotate(192.0)"/><rect x="-1.9" y="-19.6" width="3.8" height="10.5" fill="#f3e61c" stroke="#a9a998" stroke-width="0.7" transform="rotate(237.0)"/><rect x="-1.9" y="-19.6" width="3.8" height="10.5" fill="#f3e61c" stroke="#a9a998" stroke-width="0.7" transform="rotate(282.0)"/><rect x="-1.9" y="-19.6" width="3.8" height="10.5" fill="#f3e61c" stroke="#a9a998" stroke-width="0.7" transform="rotate(327.0)"/><circle r="9.7" fill="#f2e71a" stroke="#f6a52a" stroke-width="1.1"/></g><path d="M941.15 163.36 C941.35 162.80 941.69 160.90 942.33 159.97 C942.97 159.03 944.06 158.15 944.99 157.76 C945.93 157.36 947.01 157.39 947.94 157.61 C948.88 157.83 949.93 158.40 950.60 159.08 C951.26 159.77 951.66 160.98 951.93 161.74 C952.20 162.50 952.17 163.34 952.22 163.66 C952.69 163.73 954.19 163.63 955.03 164.10 C955.86 164.57 956.77 165.58 957.24 166.46 C957.71 167.35 957.93 168.43 957.83 169.41 C957.73 170.40 957.31 171.60 956.65 172.37 C955.99 173.13 954.90 173.67 953.85 173.99 C952.79 174.31 951.58 174.36 950.30 174.28 C949.02 174.21 947.50 173.96 946.17 173.55 C944.84 173.13 942.97 172.07 942.33 171.78 C941.89 172.02 940.61 172.96 939.68 173.25 C938.74 173.55 937.66 173.69 936.73 173.55 C935.79 173.40 934.73 173.01 934.07 172.37 C933.41 171.73 932.94 170.64 932.74 169.71 C932.54 168.77 932.62 167.64 932.89 166.76 C933.16 165.87 933.63 165.04 934.36 164.40 C935.10 163.76 936.38 163.17 937.32 162.92 C938.25 162.67 939.33 162.85 939.97 162.92 C940.61 162.99 940.96 163.29 941.15 163.36 Z" fill="#fafafa" stroke="#2a5eb0" stroke-width="2.30" stroke-linejoin="round"/><path d="M947.79 166.17 Q949.12 163.81 952.22 163.66" fill="none" stroke="#2a5eb0" stroke-width="2.30" stroke-linecap="round"/>
<text transform="translate(916.76 221.11) scale(1.0430 1.0336)" font-size="25" fill="#cc0000">19</text>
<text transform="translate(946.80 221.25) scale(1.0440 1.0761)" font-size="25" fill="#cc0000">°</text>
<text transform="translate(916.79 248.79) scale(1.0317 1.0279)" font-size="25" fill="#1e90ff">14</text>
<text transform="translate(946.80 249.05) scale(1.0440 1.0761)" font-size="25" fill="#1e90ff">°</text>
<text transform="translate(997.27 106.90) scale(1.1290 1.0705)" font-size="19" fill="#cc0000">ned</text>
<text transform="translate(986.99 128.95) scale(1.1820 1.0455)" font-size="19" fill="#cc0000">26.10</text>
<g transform="translate(1019.75 156.50) scale(1.000)"><rect x="-1.9" y="-19.6" width="3.8" height="10.5" fill="#f3e61c" stroke="#a9a998" stroke-width="0.7" transform="rotate(12.0)"/><rect x="-1.9" y="-19.6" width="3.8" height="10.5" fill="#f3e61c" stroke="#a9a998" stroke-width="0.7" transform="rotate(57.0)"/><rect x="-1.9" y="-19.6" width="3.8" height="10.5" fill="#f3e61c" stroke="#a9a998" stroke-width="0.7" transform="rotate(102.0)"/><rect x="-1.9" y="-19.6" width="3.8" height="10.5" fill="#f3e61c" stroke="#a9a998" stroke-width="0.7" transform="rotate(147.0)"/><rect x="-1.9" y="-19.6" width="3.8" height="10.5" fill="#f3e61c" stroke="#a9a998" stroke-width="0.7" transform="rotate(192.0)"/><rect x="-1.9" y="-19.6" width="3.8" height="10.5" fill="#f3e61c" stroke="#a9a998" stroke-width="0.7" transform="rotate(237.0)"/><rect x="-1.9" y="-19.6" width="3.8" height="10.5" fill="#f3e61c" stroke="#a9a998" stroke-width="0.7" transform="rotate(282.0)"/><rect x="-1.9" y="-19.6" width="3.8" height="10.5" fill="#f3e61c" stroke="#a9a998" stroke-width="0.7" transform="rotate(327.0)"/><circle r="9.7" fill="#f2e71a" stroke="#f6a52a" stroke-width="1.1"/></g><path d="M1002.50 163.46 C1002.68 162.94 1002.91 161.26 1003.55 160.33 C1004.18 159.41 1005.34 158.42 1006.32 157.90 C1007.31 157.38 1008.35 157.15 1009.45 157.21 C1010.55 157.27 1011.94 157.67 1012.92 158.25 C1013.90 158.83 1014.83 159.81 1015.35 160.68 C1015.87 161.55 1015.87 162.76 1016.05 163.46 C1016.22 164.15 1016.34 164.62 1016.39 164.85 C1016.86 164.88 1018.25 164.73 1019.17 165.02 C1020.10 165.31 1021.23 165.80 1021.95 166.58 C1022.67 167.36 1023.31 168.61 1023.51 169.71 C1023.71 170.81 1023.54 172.14 1023.16 173.18 C1022.79 174.22 1022.15 175.26 1021.25 175.96 C1020.36 176.65 1019.17 177.12 1017.78 177.35 C1016.39 177.58 1014.54 177.52 1012.92 177.35 C1011.30 177.17 1009.56 176.71 1008.06 176.31 C1006.56 175.90 1004.59 175.15 1003.89 174.92 C1003.49 175.15 1002.45 175.96 1001.46 176.31 C1000.48 176.65 999.15 177.06 997.99 177.00 C996.83 176.94 995.44 176.59 994.52 175.96 C993.59 175.32 992.84 174.22 992.43 173.18 C992.03 172.14 991.91 170.92 992.09 169.71 C992.26 168.49 992.72 166.96 993.48 165.89 C994.23 164.82 995.50 163.81 996.60 163.28 C997.70 162.76 999.09 162.73 1000.07 162.76 C1001.06 162.79 1002.10 163.34 1002.50 163.46 Z" fill="#dcdcdc" stroke="#2a5eb0" stroke-width="2.40" stroke-linejoin="round"/><path d="M1011.01 167.80 Q1012.57 165.19 1016.39 164.85" fill="none" stroke="#2a5eb0" stroke-width="2.40" stroke-linecap="round"/>
<text transform="translate(995.62 221.11) scale(1.0378 1.0336)" font-size="25" fill="#cc0000">18</text>
<text transform="translate(1025.65 221.25) scale(1.0440 1.0761)" font-size="25" fill="#cc0000">°</text>
<text transform="translate(995.63 248.79) scale(1.0317 1.0279)" font-size="25" fill="#1e90ff">14</text>
<text transform="translate(1025.65 249.05) scale(1.0440 1.0761)" font-size="25" fill="#1e90ff">°</text>
<text transform="translate(1076.15 106.90) scale(1.1290 1.0487)" font-size="19" fill="#000000">pon</text>
<text transform="translate(1065.83 128.95) scale(1.1820 1.0455)" font-size="19" fill="#000000">27.10</text>
<g transform="translate(1090.40 156.20) scale(1.000)"><rect x="-1.9" y="-19.6" width="3.8" height="10.5" fill="#f3e61c" stroke="#a9a998" stroke-width="0.7" transform="rotate(12.0)"/><rect x="-1.9" y="-19.6" width="3.8" height="10.5" fill="#f3e61c" stroke="#a9a998" stroke-width="0.7" transform="rotate(57.0)"/><rect x="-1.9" y="-19.6" width="3.8" height="10.5" fill="#f3e61c" stroke="#a9a998" stroke-width="0.7" transform="rotate(102.0)"/><rect x="-1.9" y="-19.6" width="3.8" height="10.5" fill="#f3e61c" stroke="#a9a998" stroke-width="0.7" transform="rotate(147.0)"/><rect x="-1.9" y="-19.6" width="3.8" height="10.5" fill="#f3e61c" stroke="#a9a998" stroke-width="0.7" transform="rotate(192.0)"/><rect x="-1.9" y="-19.6" width="3.8" height="10.5" fill="#f3e61c" stroke="#a9a998" stroke-width="0.7" transform="rotate(237.0)"/><rect x="-1.9" y="-19.6" width="3.8" height="10.5" fill="#f3e61c" stroke="#a9a998" stroke-width="0.7" transform="rotate(282.0)"/><rect x="-1.9" y="-19.6" width="3.8" height="10.5" fill="#f3e61c" stroke="#a9a998" stroke-width="0.7" transform="rotate(327.0)"/><circle r="9.7" fill="#f2e71a" stroke="#f6a52a" stroke-width="1.1"/></g><path d="M1098.85 163.36 C1099.04 162.80 1099.39 160.90 1100.03 159.97 C1100.67 159.03 1101.75 158.15 1102.68 157.76 C1103.62 157.36 1104.70 157.39 1105.63 157.61 C1106.57 157.83 1107.63 158.40 1108.29 159.08 C1108.95 159.77 1109.35 160.98 1109.62 161.74 C1109.89 162.50 1109.86 163.34 1109.91 163.66 C1110.38 163.73 1111.88 163.63 1112.72 164.10 C1113.55 164.57 1114.46 165.58 1114.93 166.46 C1115.40 167.35 1115.62 168.43 1115.52 169.41 C1115.42 170.40 1115.01 171.60 1114.34 172.37 C1113.68 173.13 1112.60 173.67 1111.54 173.99 C1110.48 174.31 1109.27 174.36 1108.00 174.28 C1106.72 174.21 1105.19 173.96 1103.86 173.55 C1102.54 173.13 1100.67 172.07 1100.03 171.78 C1099.58 172.02 1098.30 172.96 1097.37 173.25 C1096.44 173.55 1095.35 173.69 1094.42 173.55 C1093.48 173.40 1092.43 173.01 1091.76 172.37 C1091.10 171.73 1090.63 170.64 1090.43 169.71 C1090.24 168.77 1090.31 167.64 1090.58 166.76 C1090.85 165.87 1091.32 165.04 1092.06 164.40 C1092.79 163.76 1094.07 163.17 1095.01 162.92 C1095.94 162.67 1097.03 162.85 1097.67 162.92 C1098.30 162.99 1098.65 163.29 1098.85 163.36 Z" fill="#fafafa" stroke="#2a5eb0" stroke-width="2.30" stroke-linejoin="round"/><path d="M1105.49 166.17 Q1106.82 163.81 1109.91 163.66" fill="none" stroke="#2a5eb0" stroke-width="2.30" stroke-linecap="round"/>
<text transform="translate(1074.47 221.11) scale(1.0378 1.0336)" font-size="25" fill="#cc0000">18</text>
<text transform="translate(1104.49 221.25) scale(1.0440 1.0761)" font-size="25" fill="#cc0000">°</text>
<text transform="translate(1074.48 248.79) scale(1.0317 1.0279)" font-size="25" fill="#1e90ff">14</text>
<text transform="translate(1104.49 249.05) scale(1.0440 1.0761)" font-size="25" fill="#1e90ff">°</text>
<text x="488.20" y="407.80" font-size="23.94" fill="#000">Temperatura (°C)</text>
<svg x="69" y="417" width="1026" height="198" viewBox="69 417 1026 198" overflow="hidden">
<polygon points="69.00,535.30 147.85,536.70 226.69,538.30 305.54,543.00 384.38,550.70 463.23,564.80 542.08,557.20 620.92,530.20 699.77,530.80 778.62,532.30 857.46,524.10 936.31,521.10 1015.15,530.00 1094.00,538.30 1094.00,594.40 1015.15,603.50 936.31,586.00 857.46,572.00 778.62,568.00 699.77,566.50 620.92,569.30 542.08,586.30 463.23,587.30 384.38,567.60 305.54,560.20 226.69,552.60 147.85,546.00 69.00,544.60" fill="#b0c6f2"/>
<polygon points="69.00,450.60 147.85,451.00 226.69,457.80 305.54,468.30 384.38,473.80 463.23,501.90 542.08,483.10 620.92,462.20 699.77,463.30 778.62,459.50 857.46,454.20 936.31,449.60 1015.15,460.20 1094.00,467.20 1094.00,524.10 1015.15,534.20 936.31,513.30 857.46,502.60 778.62,495.80 699.77,499.70 620.92,501.60 542.08,511.90 463.23,524.60 384.38,490.60 305.54,487.00 226.69,473.30 147.85,460.00 69.00,459.60" fill="#28d428" fill-opacity="0.37"/>
<line x1="69.5" y1="467.00" x2="1094.5" y2="467.00" stroke="#000" stroke-opacity="0.14" stroke-width="2"/>
<line x1="69.5" y1="545.00" x2="1094.5" y2="545.00" stroke="#000" stroke-opacity="0.14" stroke-width="2"/>
<line x1="227.00" y1="417.5" x2="227.00" y2="614.5" stroke="#000" stroke-opacity="0.14" stroke-width="2"/>
<line x1="385.00" y1="417.5" x2="385.00" y2="614.5" stroke="#000" stroke-opacity="0.14" stroke-width="2"/>
<line x1="542.00" y1="417.5" x2="542.00" y2="614.5" stroke="#000" stroke-opacity="0.14" stroke-width="2"/>
<line x1="700.00" y1="417.5" x2="700.00" y2="614.5" stroke="#000" stroke-opacity="0.14" stroke-width="2"/>
<line x1="858.00" y1="417.5" x2="858.00" y2="614.5" stroke="#000" stroke-opacity="0.14" stroke-width="2"/>
<line x1="1015.00" y1="417.5" x2="1015.00" y2="614.5" stroke="#000" stroke-opacity="0.14" stroke-width="2"/>
<polyline points="69.00,454.70 147.85,455.40 226.69,465.70 305.54,477.10 384.38,482.20 463.23,513.40 542.08,498.80 620.92,481.90 699.77,481.70 778.62,478.00 857.46,478.20 936.31,481.80 1015.15,496.80 1094.00,496.00" fill="none" stroke="#ff0000" stroke-width="5" stroke-linejoin="round"/>
<polyline points="69.00,539.60 147.85,541.40 226.69,545.10 305.54,551.20 384.38,559.10 463.23,575.90 542.08,571.70 620.92,549.50 699.77,548.50 778.62,550.20 857.46,547.90 936.31,553.40 1015.15,566.10 1094.00,566.40" fill="none" stroke="#1e90ff" stroke-width="5" stroke-linejoin="round"/>
</svg>
<line x1="70" y1="607.45" x2="74.5" y2="607.45" stroke="#000" stroke-width="1"/>
<line x1="70" y1="591.80" x2="74.5" y2="591.80" stroke="#000" stroke-width="1"/>
<line x1="70" y1="576.15" x2="74.5" y2="576.15" stroke="#000" stroke-width="1"/>
<line x1="70" y1="560.50" x2="74.5" y2="560.50" stroke="#000" stroke-width="1"/>
<line x1="70" y1="529.20" x2="74.5" y2="529.20" stroke="#000" stroke-width="1"/>
<line x1="70" y1="513.55" x2="74.5" y2="513.55" stroke="#000" stroke-width="1"/>
<line x1="70" y1="497.90" x2="74.5" y2="497.90" stroke="#000" stroke-width="1"/>
<line x1="70" y1="482.25" x2="74.5" y2="482.25" stroke="#000" stroke-width="1"/>
<line x1="70" y1="450.95" x2="74.5" y2="450.95" stroke="#000" stroke-width="1"/>
<line x1="70" y1="435.30" x2="74.5" y2="435.30" stroke="#000" stroke-width="1"/>
<line x1="70" y1="419.65" x2="74.5" y2="419.65" stroke="#000" stroke-width="1"/>
<rect x="69.5" y="417.5" width="1025.0" height="197.0" fill="none" stroke="#000" stroke-width="1"/>
<text transform="translate(40.11 473.80) scale(1.1430 1.0561)" font-size="19" fill="#000">20</text>
<text transform="translate(40.50 552.00) scale(1.1045 1.0571)" font-size="19" fill="#000">15</text>
<text x="749.35" y="483.60" font-size="19.2" fill="#0000ff" stroke="#0000ff" stroke-width="0.45">© vreme.us &amp; vreme.pro</text>
<text x="338.40" y="668.00" font-size="23.81" fill="#000">Količina padavin (mm) / Možnost padavin (%)</text>
<text transform="translate(55.48 692.80) scale(1.2440 1.1067)" font-size="19" fill="#000">tor</text>
<text transform="translate(133.53 692.80) scale(1.1016 1.0487)" font-size="19" fill="#000">sre</text>
<text transform="translate(211.74 692.80) scale(1.1709 1.1154)" font-size="19" fill="#000">čet</text>
<text transform="translate(289.92 692.80) scale(1.1832 1.1067)" font-size="19" fill="#000">pet</text>
<text transform="translate(367.73 692.80) scale(1.0938 1.0705)" font-size="19" fill="#000">sob</text>
<text transform="translate(445.35 692.80) scale(1.1290 1.0705)" font-size="19" fill="#000">ned</text>
<text transform="translate(524.23 692.80) scale(1.1290 1.0487)" font-size="19" fill="#000">pon</text>
<text transform="translate(607.41 692.80) scale(1.2440 1.1067)" font-size="19" fill="#000">tor</text>
<text transform="translate(685.46 692.80) scale(1.1016 1.0487)" font-size="19" fill="#000">sre</text>
<text transform="translate(763.66 692.80) scale(1.1709 1.1154)" font-size="19" fill="#000">čet</text>
<text transform="translate(841.84 692.80) scale(1.1832 1.1067)" font-size="19" fill="#000">pet</text>
<text transform="translate(919.65 692.80) scale(1.0938 1.0705)" font-size="19" fill="#000">sob</text>
<text transform="translate(997.27 692.80) scale(1.1290 1.0705)" font-size="19" fill="#000">ned</text>
<text transform="translate(1076.15 692.80) scale(1.1290 1.0487)" font-size="19" fill="#000">pon</text>
<line x1="69.5" y1="725.00" x2="1094.5" y2="725.00" stroke="#000" stroke-opacity="0.14" stroke-width="2"/>
<line x1="69.5" y1="768.00" x2="1094.5" y2="768.00" stroke="#000" stroke-opacity="0.14" stroke-width="2"/>
<line x1="69.5" y1="811.00" x2="1094.5" y2="811.00" stroke="#000" stroke-opacity="0.14" stroke-width="2"/>
<line x1="69.5" y1="854.00" x2="1094.5" y2="854.00" stroke="#000" stroke-opacity="0.14" stroke-width="2"/>
<line x1="227.00" y1="700.5" x2="227.00" y2="897.5" stroke="#000" stroke-opacity="0.14" stroke-width="2"/>
<line x1="385.00" y1="700.5" x2="385.00" y2="897.5" stroke="#000" stroke-opacity="0.14" stroke-width="2"/>
<line x1="542.00" y1="700.5" x2="542.00" y2="897.5" stroke="#000" stroke-opacity="0.14" stroke-width="2"/>
<line x1="700.00" y1="700.5" x2="700.00" y2="897.5" stroke="#000" stroke-opacity="0.14" stroke-width="2"/>
<line x1="858.00" y1="700.5" x2="858.00" y2="897.5" stroke="#000" stroke-opacity="0.14" stroke-width="2"/>
<line x1="1015.00" y1="700.5" x2="1015.00" y2="897.5" stroke="#000" stroke-opacity="0.14" stroke-width="2"/>
<line x1="69.50" y1="896.4" x2="80.00" y2="896.4" stroke="#444" stroke-width="1.2"/>
<line x1="137.85" y1="896.4" x2="158.85" y2="896.4" stroke="#444" stroke-width="1.2"/>
<line x1="216.69" y1="896.4" x2="237.69" y2="896.4" stroke="#444" stroke-width="1.2"/>
<line x1="295.54" y1="896.4" x2="316.54" y2="896.4" stroke="#444" stroke-width="1.2"/>
<line x1="374.38" y1="896.4" x2="395.38" y2="896.4" stroke="#444" stroke-width="1.2"/>
<line x1="453.23" y1="896.4" x2="474.23" y2="896.4" stroke="#444" stroke-width="1.2"/>
<line x1="532.08" y1="896.4" x2="553.08" y2="896.4" stroke="#444" stroke-width="1.2"/>
<rect x="595.02" y="817.10" width="51.80" height="79.90" fill="#0050ff"/>
<line x1="621.42" y1="712.60" x2="621.42" y2="897" stroke="#808080" stroke-width="3"/>
<line x1="610.92" y1="712.60" x2="631.92" y2="712.60" stroke="#808080" stroke-width="3"/>
<rect x="673.87" y="820.10" width="51.80" height="76.90" fill="#0050ff"/>
<line x1="700.27" y1="732.20" x2="700.27" y2="897" stroke="#808080" stroke-width="3"/>
<line x1="689.77" y1="732.20" x2="710.77" y2="732.20" stroke="#808080" stroke-width="3"/>
<rect x="752.72" y="844.90" width="51.80" height="52.10" fill="#0050ff"/>
<line x1="779.12" y1="764.30" x2="779.12" y2="897" stroke="#808080" stroke-width="3"/>
<line x1="768.62" y1="764.30" x2="789.62" y2="764.30" stroke="#808080" stroke-width="3"/>
<rect x="831.56" y="856.00" width="51.80" height="41.00" fill="#0050ff"/>
<line x1="857.96" y1="778.20" x2="857.96" y2="897" stroke="#808080" stroke-width="3"/>
<line x1="847.46" y1="778.20" x2="868.46" y2="778.20" stroke="#808080" stroke-width="3"/>
<line x1="926.31" y1="896.4" x2="947.31" y2="896.4" stroke="#444" stroke-width="1.2"/>
<line x1="1005.15" y1="896.4" x2="1026.15" y2="896.4" stroke="#444" stroke-width="1.2"/>
<line x1="1084.00" y1="896.4" x2="1094.50" y2="896.4" stroke="#444" stroke-width="1.2"/>
<rect x="69.5" y="700.5" width="1025.0" height="197.0" fill="none" stroke="#000" stroke-width="1"/>
<text transform="translate(41.34 721.30) scale(1.1220 1.0772)" font-size="19" fill="#000">40</text>
<text transform="translate(40.83 775.80) scale(1.1175 1.0772)" font-size="19" fill="#000">30</text>
<text transform="translate(39.94 819.00) scale(1.1319 1.0772)" font-size="19" fill="#000">20</text>
<text transform="translate(40.30 862.10) scale(1.1139 1.0772)" font-size="19" fill="#000">10</text>
<text transform="translate(53.68 892.80) scale(1.0759 1.0772)" font-size="19" fill="#000">0</text>
<text transform="translate(50.78 926.80) scale(1.0608 1.0537)" font-size="24" fill="#5ad5e2">5%</text>
<text transform="translate(129.50 926.80) scale(1.0644 1.0458)" font-size="24" fill="#5ad5e2">0%</text>
<text transform="translate(208.35 926.80) scale(1.0644 1.0458)" font-size="24" fill="#5ad5e2">0%</text>
<text transform="translate(279.45 926.80) scale(1.0912 1.0537)" font-size="24" fill="#2a98d3">15%</text>
<text transform="translate(358.29 926.80) scale(1.0912 1.0458)" font-size="24" fill="#5ad5e2">10%</text>
<text transform="translate(445.01 926.80) scale(1.0608 1.0537)" font-size="24" fill="#5ad5e2">5%</text>
<text transform="translate(515.79 926.80) scale(1.0954 1.0458)" font-size="24" fill="#2a98d3">20%</text>
<text transform="translate(594.89 926.80) scale(1.0899 1.0458)" font-size="24" fill="#155fb4">70%</text>
<text transform="translate(673.63 926.80) scale(1.0921 1.0458)" font-size="24" fill="#155fb4">85%</text>
<text transform="translate(752.20 926.80) scale(1.0981 1.0458)" font-size="24" fill="#155fb4">60%</text>
<text transform="translate(831.37 926.80) scale(1.0912 1.0537)" font-size="24" fill="#2a98d3">45%</text>
<text transform="translate(910.22 926.80) scale(1.0912 1.0537)" font-size="24" fill="#2a98d3">45%</text>
<text transform="translate(989.06 926.80) scale(1.0912 1.0537)" font-size="24" fill="#2a98d3">45%</text>
<text transform="translate(1067.91 926.80) scale(1.0912 1.0537)" font-size="24" fill="#2a98d3">45%</text>
</svg></body></html>
